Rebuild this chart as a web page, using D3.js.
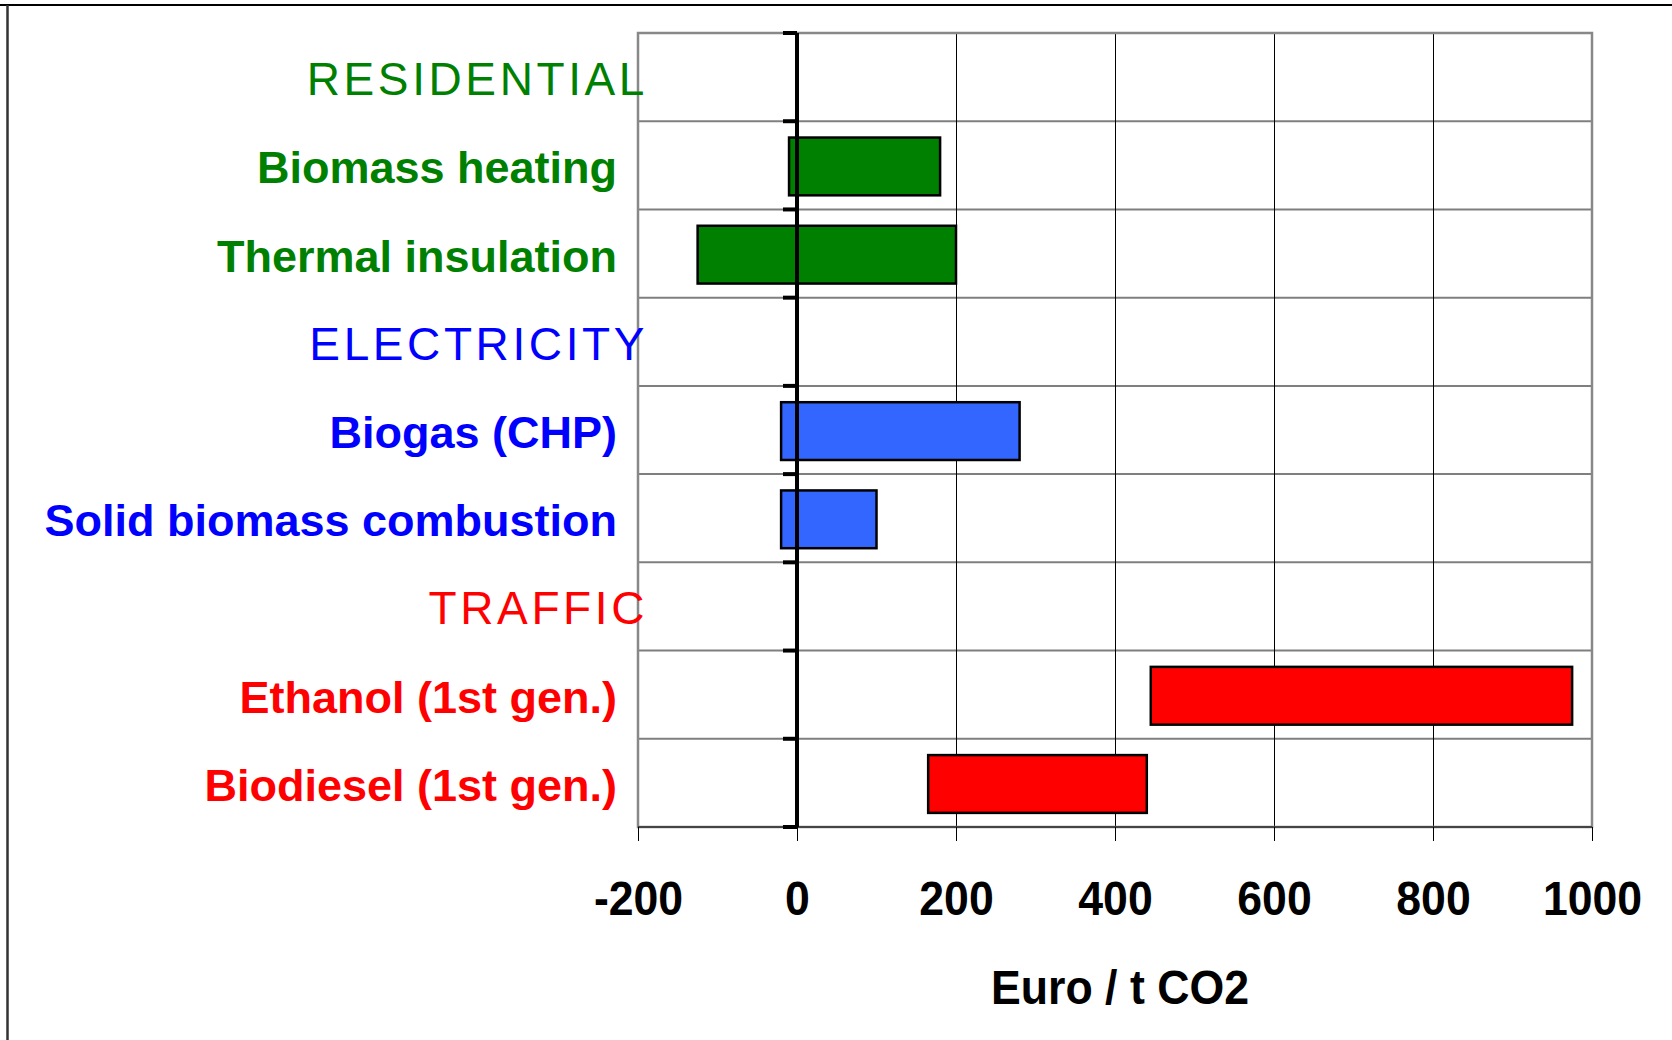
<!DOCTYPE html>
<html>
<head>
<meta charset="utf-8">
<script src="https://cdn.jsdelivr.net/npm/d3@7"></script>
<style>
  body { margin: 0; background: #fff; }
  svg { display: block; font-family: "Liberation Sans", Arial, sans-serif; }
</style>
</head>
<body>
<div id="chart"></div>
<script>
// rows top to bottom (section headers have no bar)
var rows = ["RESIDENTIAL", "Biomass heating", "Thermal insulation",
            "ELECTRICITY", "Biogas (CHP)", "Solid biomass combustion",
            "TRAFFIC", "Ethanol (1st gen.)", "Biodiesel (1st gen.)"];
var isHeader = [true, false, false, true, false, false, true, false, false];
var sector = ["res", "res", "res", "elec", "elec", "elec", "traf", "traf", "traf"];
// cost range in Euro / t CO2
var lowCost  = [null, -10, -125, null, -20, -20, null, 445, 165];
var highCost = [null, 180,  200, null, 280, 100, null, 975, 440];
var xTicks = [-200, 0, 200, 400, 600, 800, 1000];

var textColor = { res: "#008000", elec: "#0000ff", traf: "#ff0000" };
var barColor  = { res: "#008000", elec: "#3366ff", traf: "#ff0000" };

var W = 1672, H = 1040;
var plot = { left: 638, right: 1592, top: 33, bottom: 827 };

var svg = d3.select("#chart").append("svg")
    .attr("width", W)
    .attr("height", H);

// outer frame (top + left edge of slide box)
svg.append("line").attr("x1", 0).attr("x2", W).attr("y1", 5).attr("y2", 5)
  .attr("stroke", "#000").attr("stroke-width", 2);
svg.append("line").attr("x1", 7.5).attr("x2", 7.5).attr("y1", 5).attr("y2", H)
  .attr("stroke", "#333").attr("stroke-width", 2.5);

var x = d3.scaleLinear()
  .domain([-200, 1000])
  .range([plot.left, plot.right]);

var y = d3.scaleBand()
  .domain(rows)
  .range([plot.top, plot.bottom])
  .padding(0);

var bw = y.bandwidth();

// horizontal grid (row boundaries)
svg.append("g")
  .selectAll("line")
  .data(rows.slice(1))
  .enter()
  .append("line")
    .attr("x1", plot.left).attr("x2", plot.right)
    .attr("y1", function (d) { return y(d); })
    .attr("y2", function (d) { return y(d); })
    .attr("stroke", "#7f7f7f")
    .attr("stroke-width", 2);

// vertical grid
svg.append("g")
  .selectAll("line")
  .data(xTicks.filter(function (d) { return d > 0 && d < 1000; }))
  .enter()
  .append("line")
    .attr("x1", function (d) { return Math.round(x(d)) + 0.5; })
    .attr("x2", function (d) { return Math.round(x(d)) + 0.5; })
    .attr("y1", plot.top).attr("y2", plot.bottom)
    .attr("stroke", "#000")
    .attr("stroke-width", 1);

// bars
var barData = rows.map(function (r, i) {
  return { name: r, lo: lowCost[i], hi: highCost[i], sector: sector[i] };
}).filter(function (d) { return d.lo !== null; });

svg.append("g")
  .selectAll("rect")
  .data(barData)
  .enter()
  .append("rect")
    .attr("x", function (d) { return x(d.lo); })
    .attr("width", function (d) { return x(d.hi) - x(d.lo); })
    .attr("y", function (d) { return y(d.name) + bw * 0.185; })
    .attr("height", bw * 0.655)
    .attr("fill", function (d) { return barColor[d.sector]; })
    .attr("stroke", "#000")
    .attr("stroke-width", 2.5);

// plot border
svg.append("rect")
  .attr("x", plot.left).attr("y", plot.top)
  .attr("width", plot.right - plot.left)
  .attr("height", plot.bottom - plot.top)
  .attr("fill", "none")
  .attr("stroke", "#888")
  .attr("stroke-width", 2.5);

svg.append("line")
  .attr("x1", plot.left).attr("x2", plot.right)
  .attr("y1", plot.bottom).attr("y2", plot.bottom)
  .attr("stroke", "#444").attr("stroke-width", 2);

// zero axis with row ticks
svg.append("line")
  .attr("x1", x(0)).attr("x2", x(0))
  .attr("y1", plot.top).attr("y2", plot.bottom)
  .attr("stroke", "#000").attr("stroke-width", 4);

var rowEdges = rows.map(function (r) { return y(r); }).concat([plot.bottom]);
svg.append("g")
  .selectAll("line")
  .data(rowEdges)
  .enter()
  .append("line")
    .attr("x1", x(0) - 14).attr("x2", x(0))
    .attr("y1", function (d) { return d; })
    .attr("y2", function (d) { return d; })
    .attr("stroke", "#000")
    .attr("stroke-width", 4);

// bottom axis
var xAxis = svg.append("g")
  .attr("transform", "translate(0," + plot.bottom + ")")
  .call(d3.axisBottom(x).tickValues(xTicks).tickSize(14)
        .tickFormat(function (d) { return String(d); }));
xAxis.select(".domain").remove();
xAxis.selectAll(".tick line").attr("stroke", "#000").attr("stroke-width", 1);
xAxis.selectAll(".tick text")
  .attr("y", 88)
  .attr("dy", 0)
  .attr("transform", "scale(0.91,1)")
  .attr("fill", "#000")
  .style("font-family", "'Liberation Sans', Arial, sans-serif")
  .style("font-size", "49px")
  .style("font-weight", "bold");

svg.append("text")
  .attr("x", (plot.left + plot.right) / 2 + 5)
  .attr("y", 1004)
  .attr("text-anchor", "middle")
  .attr("textLength", 258)
  .attr("lengthAdjust", "spacingAndGlyphs")
  .style("font-size", "49px")
  .style("font-weight", "bold")
  .text("Euro / t CO2");

// row labels
svg.append("g")
  .selectAll("text")
  .data(rows)
  .enter()
  .append("text")
    .attr("x", function (d, i) { return isHeader[i] ? 648 : 617; })
    .attr("y", function (d) { return y(d) + bw / 2 + 18; })
    .attr("text-anchor", "end")
    .attr("fill", function (d, i) { return textColor[sector[i]]; })
    .style("font-size", function (d, i) { return isHeader[i] ? "46px" : "45px"; })
    .style("font-weight", function (d, i) { return isHeader[i] ? "normal" : "bold"; })
    .style("letter-spacing", function (d, i) { return isHeader[i] ? "3.6px" : "0px"; })
    .text(function (d) { return d; });
</script>
</body>
</html>
